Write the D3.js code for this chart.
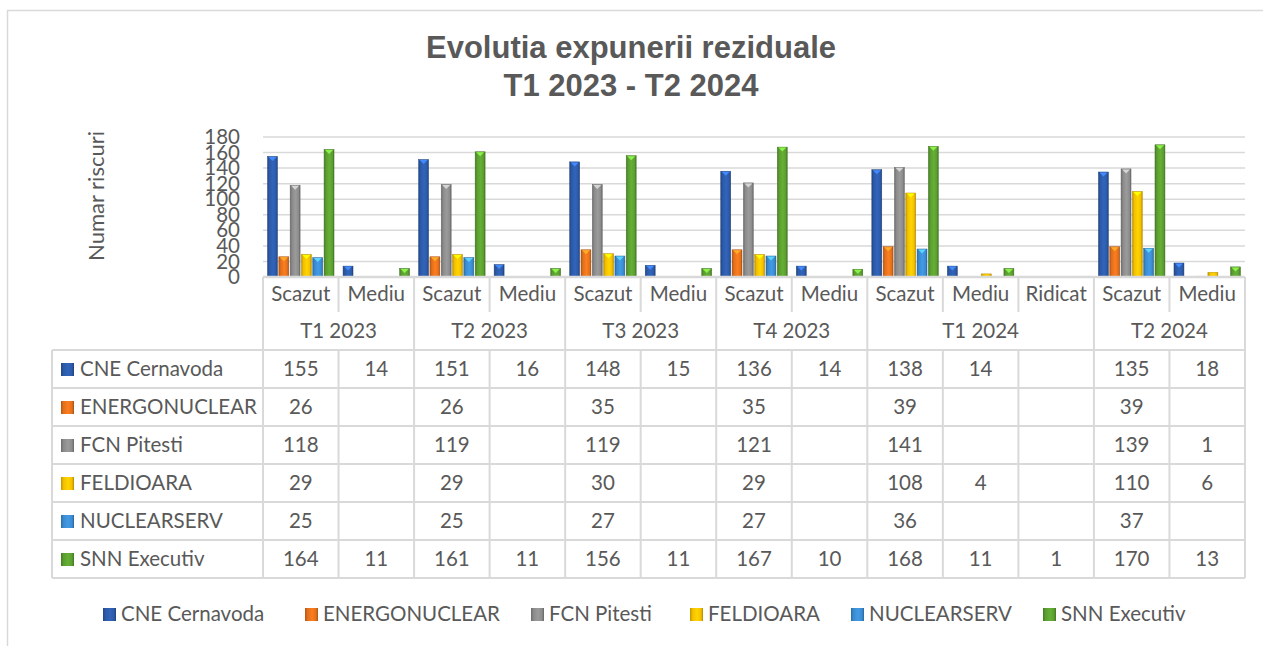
<!DOCTYPE html>
<html>
<head>
<meta charset="utf-8">
<script src="https://cdn.jsdelivr.net/npm/d3@7"></script>
<style>
  body { margin: 0; background: #fff; }
  svg text { fill: #595959; }
</style>
</head>
<body>
<svg id="chart" width="1263" height="646"></svg>
<script>
// periods and the risk levels shown under each one
const periods = ["T1 2023", "T2 2023", "T3 2023", "T4 2023", "T1 2024", "T2 2024"];
const levels = [
    ["Scazut", "Mediu"],
    ["Scazut", "Mediu"],
    ["Scazut", "Mediu"],
    ["Scazut", "Mediu"],
    ["Scazut", "Mediu", "Ridicat"],
    ["Scazut", "Mediu"]
];
const seriesNames = ["CNE Cernavoda", "ENERGONUCLEAR", "FCN Pitesti", "FELDIOARA", "NUCLEARSERV", "SNN Executiv"];
const seriesColours = ["#2c5aa8", "#e3701c", "#8b8b8b", "#f3bf00", "#3b8bd0", "#5b9e30"];

// one value per leaf column (null = empty cell)
const cneValues    = [155, 14, 151, 16, 148, 15, 136, 14, 138, 14, null, 135, 18];
const energoValues = [26, null, 26, null, 35, null, 35, null, 39, null, null, 39, null];
const fcnValues    = [118, null, 119, null, 119, null, 121, null, 141, null, null, 139, 1];
const feldValues   = [29, null, 29, null, 30, null, 29, null, 108, 4, null, 110, 6];
const nuclValues   = [25, null, 25, null, 27, null, 27, null, 36, null, null, 37, null];
const snnValues    = [164, 11, 161, 11, 156, 11, 167, 10, 168, 11, 1, 170, 13];
const yTicks = [0, 20, 40, 60, 80, 100, 120, 140, 160, 180];

const allValues = [cneValues, energoValues, fcnValues, feldValues, nuclValues, snnValues];

const font = "Lato, 'Open Sans', sans-serif";
const fontSize = "20.5px";
const svg = d3.select("#chart");

// leaf columns
const leaves = [];
periods.forEach((p, i) => levels[i].forEach(l => leaves.push({ key: p + "|" + l, period: p, level: l })));

const plotLeft = 263, plotRight = 1245, plotTop = 137, plotBottom = 277;
const x0 = d3.scaleBand().domain(leaves.map(d => d.key)).range([plotLeft, plotRight]);
const x1 = d3.scaleBand().domain(seriesNames).range([0, x0.bandwidth()]).paddingInner(0.12).paddingOuter(0.4);
const y = d3.scaleLinear().domain([0, 180]).range([plotBottom, plotTop]);

// gradients for the bevelled bars
const defs = svg.append("defs");
seriesColours.forEach((c, i) => {
    const g = defs.append("linearGradient").attr("id", "grad" + i).attr("x1", "0").attr("x2", "1").attr("y1", "0").attr("y2", "0");
    g.append("stop").attr("offset", "0%").attr("stop-color", d3.color(c).darker(0.7));
    g.append("stop").attr("offset", "20%").attr("stop-color", c);
    g.append("stop").attr("offset", "55%").attr("stop-color", d3.color(c).brighter(0.3));
    g.append("stop").attr("offset", "85%").attr("stop-color", c);
    g.append("stop").attr("offset", "100%").attr("stop-color", d3.color(c).darker(0.9));
});

// outer chart border
svg.append("rect").attr("x", 7.5).attr("y", 10.5).attr("width", 1270).attr("height", 660)
    .attr("fill", "none").attr("stroke", "#d9d9d9").attr("stroke-width", 1.5);

// title
const title = svg.append("text").attr("text-anchor", "middle")
    .style("font-family", "'Liberation Sans', Arial, sans-serif").style("font-weight", "bold").style("font-size", "31px");
title.append("tspan").attr("x", 631).attr("y", 58).text("Evolutia expunerii reziduale");
title.append("tspan").attr("x", 631).attr("y", 96).text("T1 2023 - T2 2024");

// y gridlines
svg.append("g").selectAll("line").data(yTicks).join("line")
    .attr("x1", plotLeft).attr("x2", plotRight)
    .attr("y1", d => y(d)).attr("y2", d => y(d))
    .attr("stroke", "#d9d9d9").attr("stroke-width", 1.5);

// y axis labels (they crowd each other, as in the original)
const yAxis = svg.append("g").attr("transform", `translate(${plotLeft - 23},0)`)
    .call(d3.axisLeft(y).tickValues(yTicks).tickSize(0).tickPadding(0));
yAxis.select(".domain").remove();
yAxis.selectAll("text").style("font-family", font).style("font-size", fontSize).attr("fill", "#595959").attr("dy", "0.32em");

svg.append("text").attr("transform", "translate(104,196) rotate(-90)").attr("text-anchor", "middle")
    .style("font-family", font).style("font-size", "22px").text("Numar riscuri");

// bars
seriesNames.forEach((name, si) => {
    const rows = leaves.map((d, i) => ({ key: d.key, v: allValues[si][i] })).filter(d => d.v !== null);
    const g = svg.append("g");
    g.selectAll("rect").data(rows).join("rect")
        .attr("x", d => x0(d.key) + x1(name))
        .attr("y", d => y(d.v))
        .attr("width", x1.bandwidth())
        .attr("height", d => y(0) - y(d.v))
        .attr("fill", `url(#grad${si})`)
        .attr("stroke", d3.color(seriesColours[si]).darker(0.8)).attr("stroke-width", 0.5);
    g.selectAll("path").data(rows.filter(d => y(0) - y(d.v) > 5)).join("path")
        .attr("d", d => {
            const bx = x0(d.key) + x1(name), bw = x1.bandwidth(), by = y(d.v);
            return `M${bx + 1},${by + 0.5}L${bx + bw - 1},${by + 0.5}L${bx + bw / 2},${by + 4.5}Z`;
        })
        .attr("fill", d3.color(seriesColours[si]).brighter(1.2));
});

// data table
const lineColour = "#d9d9d9";
const tableTop = 350, rowH = 38, tableLeft = 52;
const leafTop = 277, leafBottom = 312;
const grid = svg.append("g").attr("stroke", lineColour).attr("stroke-width", 2);

// group boundaries
const groupEdges = [];
let idx = 0;
periods.forEach((p, i) => {
    const start = x0(leaves[idx].key);
    idx += levels[i].length;
    const end = x0(leaves[idx - 1].key) + x0.bandwidth();
    groupEdges.push({ p, start, end });
});

// vertical lines in header
grid.selectAll(".gv").data([plotLeft].concat(groupEdges.map(d => d.end))).join("line")
    .attr("x1", d => d).attr("x2", d => d).attr("y1", leafTop).attr("y2", tableTop);
grid.selectAll(".lv").data(leaves.filter((d, i) => i > 0 && leaves[i - 1].period === d.period)).join("line")
    .attr("x1", d => x0(d.key)).attr("x2", d => x0(d.key)).attr("y1", leafTop).attr("y2", leafBottom);
grid.append("line").attr("x1", plotLeft).attr("x2", plotRight).attr("y1", leafTop).attr("y2", leafTop).attr("stroke-width", 2.5);

// leaf labels and period labels
svg.append("g").selectAll("text").data(leaves).join("text")
    .attr("x", d => x0(d.key) + x0.bandwidth() / 2).attr("y", 301)
    .attr("text-anchor", "middle").style("font-family", font).style("font-size", fontSize)
    .text(d => d.level);
svg.append("g").selectAll("text").data(groupEdges).join("text")
    .attr("x", d => (d.start + d.end) / 2).attr("y", 338)
    .attr("text-anchor", "middle").style("font-family", font).style("font-size", fontSize)
    .text(d => d.p);

// body grid
const nRows = seriesNames.length;
grid.selectAll(".hz").data(d3.range(nRows + 1)).join("line")
    .attr("x1", tableLeft).attr("x2", plotRight)
    .attr("y1", d => tableTop + d * rowH).attr("y2", d => tableTop + d * rowH);
grid.selectAll(".bv").data([tableLeft].concat(leaves.map(d => x0(d.key)), [plotRight])).join("line")
    .attr("x1", d => d).attr("x2", d => d).attr("y1", tableTop).attr("y2", tableTop + nRows * rowH);

// row labels with keys
seriesNames.forEach((name, si) => {
    const cy = tableTop + si * rowH + rowH / 2;
    svg.append("rect").attr("x", 61).attr("y", cy - 6).attr("width", 13).attr("height", 13)
        .attr("fill", `url(#grad${si})`);
    svg.append("text").attr("x", 80).attr("y", cy).attr("dy", "0.35em")
        .style("font-family", font).style("font-size", fontSize).text(name);
    svg.append("g").selectAll("text").data(leaves.map((d, i) => ({ key: d.key, v: allValues[si][i] })).filter(d => d.v !== null))
        .join("text")
        .attr("x", d => x0(d.key) + x0.bandwidth() / 2).attr("y", cy).attr("dy", "0.35em")
        .attr("text-anchor", "middle").style("font-family", font).style("font-size", fontSize)
        .text(d => d.v);
});

// legend
const legendX = [103, 305, 531, 690, 851, 1043];
const legend = svg.append("g").selectAll("g").data(seriesNames).join("g")
    .attr("transform", (d, i) => `translate(${legendX[i]},614)`);
legend.append("rect").attr("x", 0).attr("y", -6).attr("width", 13).attr("height", 13)
    .attr("fill", (d, i) => `url(#grad${i})`);
legend.append("text").attr("x", 18).attr("dy", "0.35em")
    .style("font-family", font).style("font-size", fontSize).text(d => d);
</script>
</body>
</html>
